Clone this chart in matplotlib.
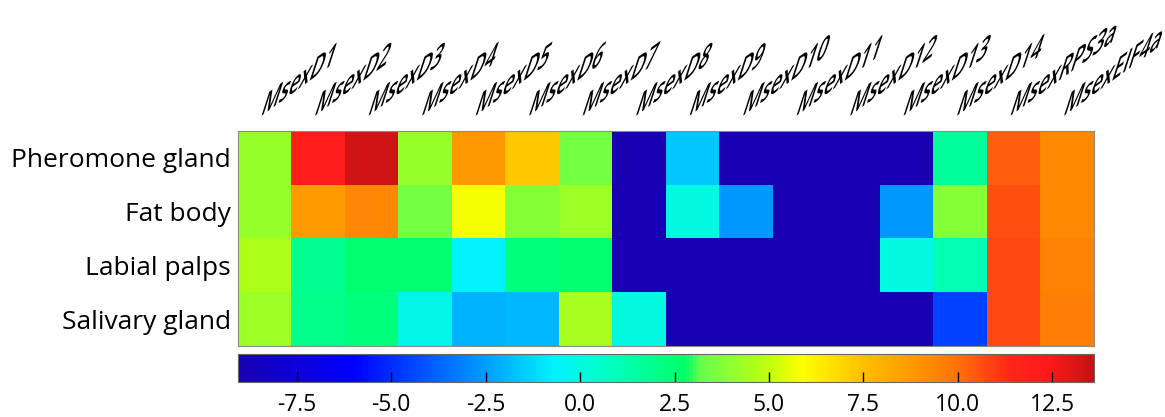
import numpy as np
import matplotlib
matplotlib.use("Agg")
import matplotlib.pyplot as plt
from matplotlib.colors import LinearSegmentedColormap
from matplotlib.transforms import Affine2D, offset_copy
from matplotlib import patheffects

plt.rcParams["font.family"] = ["Open Sans", "DejaVu Sans"]
plt.rcParams["axes.unicode_minus"] = False

genes = ["MsexD1", "MsexD2", "MsexD3", "MsexD4", "MsexD5", "MsexD6", "MsexD7",
         "MsexD8", "MsexD9", "MsexD10", "MsexD11", "MsexD12", "MsexD13",
         "MsexD14", "MsexRPS3a", "MsexEIF4a"]
tissues = ["Pheromone gland", "Fat body", "Labial palps", "Salivary gland"]

# relative expression
pheromone_gland = [4.2, 12.2, 13.4, 4.2, 8.8, 7.3, 3.5, -9.0, -1.6, -9.0, -9.0, -9.0, -9.0, 1.6, 10.4, 9.2]
fat_body        = [4.2, 8.7, 9.3, 3.5, 5.8, 3.8, 4.3, -9.0, 0.0, -2.6, -9.0, -9.0, -2.6, 3.8, 10.6, 9.2]
labial_palps    = [4.6, 1.9, 2.6, 2.5, -0.6, 2.3, 2.6, -9.0, -9.0, -9.0, -9.0, -9.0, 0.0, 1.1, 10.7, 9.5]
salivary_gland  = [4.3, 2.0, 2.3, -0.2, -2.0, -1.9, 4.5, 0.0, -9.0, -9.0, -9.0, -9.0, -9.0, -4.5, 10.7, 9.6]

vmin, vmax = -9.05, 13.6
cbar_ticks = [-7.5, -5.0, -2.5, 0.0, 2.5, 5.0, 7.5, 10.0, 12.5]

# jet-like colour scale of the original
cm_vals = [-9.05, -6.0, -2.5, -0.7, 0.5, 2.8, 3.2, 5.0, 5.9, 7.5, 8.8, 10.0, 11.4, 12.4, 13.6]
cm_cols = [(0.10, 0.00, 0.70), (0.00, 0.00, 1.00), (0.00, 0.62, 1.00), (0.00, 0.95, 1.00),
           (0.00, 1.00, 0.80), (0.00, 1.00, 0.40), (0.40, 1.00, 0.30), (0.75, 1.00, 0.05),
           (1.00, 1.00, 0.00), (1.00, 0.75, 0.00), (1.00, 0.60, 0.00), (1.00, 0.45, 0.03),
           (1.00, 0.15, 0.10), (1.00, 0.10, 0.10), (0.78, 0.07, 0.07)]
cmap = LinearSegmentedColormap.from_list(
    "expr", [((v - vmin) / (vmax - vmin), c) for v, c in zip(cm_vals, cm_cols)])


class Shear(patheffects.AbstractPathEffect):
    """skew glyphs in their own frame (labels in the original are sheared, not just rotated)"""
    def __init__(self, k, s):
        super().__init__()
        self.mtx = Affine2D(np.array([[1.0, k, 0.0], [0.0, s, 0.0], [0.0, 0.0, 1.0]]))

    def draw_path(self, renderer, gc, tpath, affine, rgbFace=None):
        renderer.draw_path(gc, tpath, self.mtx + affine, rgbFace)


data = np.array([pheromone_gland, fat_body, labial_palps, salivary_gland])

W, H = 1165, 417
fig = plt.figure(figsize=(W / 100, H / 100), dpi=100)
ax = fig.add_axes([238 / W, 1 - 346 / H, 856 / W, 215 / H])
im = ax.imshow(data, cmap=cmap, vmin=vmin, vmax=vmax, aspect="auto",
               interpolation="nearest")
ax.set_xticks([])
ax.set_yticks(range(len(tissues)))
ax.set_yticklabels(tissues, fontsize=19)
ax.tick_params(axis="y", length=0, pad=5)
for sp in ax.spines.values():
    sp.set_color("#8a8a8a"); sp.set_linewidth(0.8)

shear = Shear(1.21, 0.88)
lab_tr = offset_copy(ax.transData, fig, x=-5, y=14, units="dots")
for i, g in enumerate(genes):
    ax.text(i, -0.5, g, transform=lab_tr, rotation=36, rotation_mode="anchor",
            ha="left", va="baseline", fontsize=17, fontweight="semibold",
            path_effects=[shear])

cax = fig.add_axes([238 / W, 1 - 382 / H, 856 / W, 28 / H])
cb = fig.colorbar(im, cax=cax, orientation="horizontal", ticks=cbar_ticks)
cb.ax.set_xticklabels([f"{t:.1f}" for t in cbar_ticks])
cb.ax.tick_params(direction="in", length=7, width=1, labelsize=16.5, pad=8)
cb.outline.set_edgecolor("#666666"); cb.outline.set_linewidth(0.8)

plt.savefig("out.png", dpi=100)
